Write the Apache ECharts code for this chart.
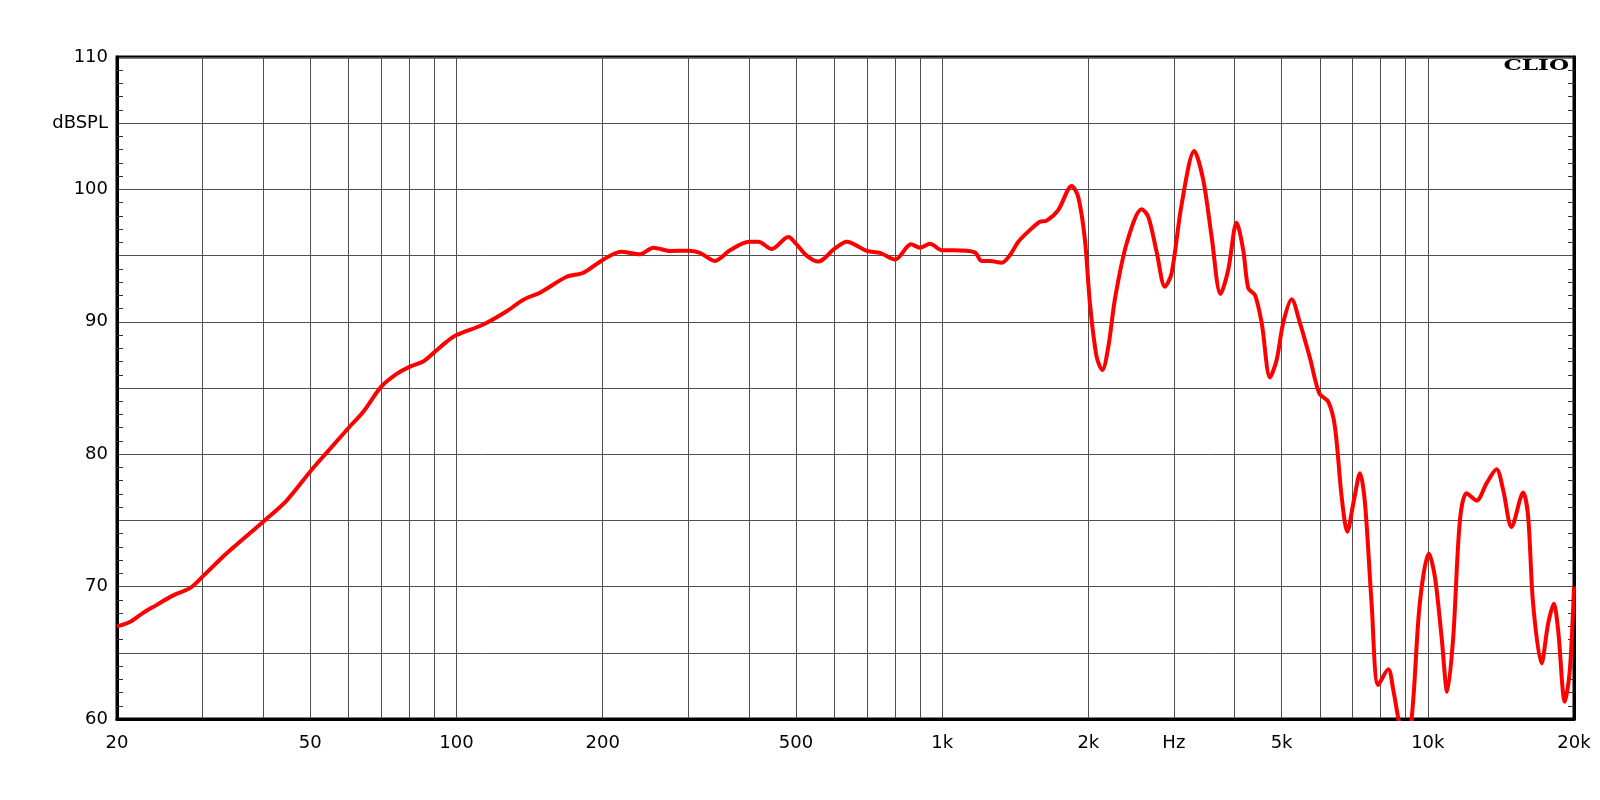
<!DOCTYPE html>
<html>
<head>
<meta charset="utf-8">
<script src="https://cdn.jsdelivr.net/npm/echarts@6/dist/echarts.min.js"></script>
<style>html,body{margin:0;padding:0;background:#fff}#c{width:1600px;height:800px}</style>
</head>
<body>
<div id="c"></div>
<script>
const freqs = [20,21.3,22.6,24.1,26,28.3,30,33.6,40,44.7,50,54,60,64.3,70,75.3,80,85.4,90,95.5,100,113.6,126.9,135.1,140.6,148.6,168.6,182.5,200,218.1,238.8,254.3,275.2,300,317.3,340.5,365.7,400,418.3,445.7,482.3,500,526,556,600,636,700,745,800,863,900,944,1000,1054,1168,1205,1254,1326,1380,1435,1516,1590,1641,1734,1848,1906,1968,2015,2080,2137,2199,2270,2399,2576,2657,2764,2876,2968,3111,3305,3449,3588,3743,3881,4040,4169,4270,4407,4550,4733,4882,5037,5244,5455,5721,5977,6237,6438,6646,6826,7046,7250,7424,7662,7907,8291,8490,8694,8950,9259,9626,10051,10341,10675,10964,11282,11645,12019,12603,13210,13850,14295,14872,15714,16090,16476,17146,17691,18174,18550,19150,19610,20000];
const splValues = [67.0,67.35,68.0,68.6,69.3,69.9,70.75,72.5,74.9,76.5,78.7,80.1,82.0,83.2,85.1,86.06,86.6,87.0,87.7,88.5,89.0,89.8,90.8,91.5,91.85,92.2,93.4,93.7,94.67,95.3,95.1,95.6,95.35,95.37,95.2,94.6,95.4,96.05,96.05,95.5,96.4,95.9,95.0,94.55,95.5,96.05,95.35,95.2,94.7,95.85,95.6,95.9,95.4,95.4,95.25,94.6,94.6,94.46,95.05,96.05,96.93,97.56,97.64,98.44,100.26,99.45,96.2,91.4,87.36,86.36,88.12,91.77,95.93,98.5,97.94,95.3,92.65,93.66,98.82,102.9,100.7,96.43,92.1,93.9,97.48,95.4,92.53,92.02,89.9,85.8,87.1,89.9,91.7,89.9,87.25,84.6,83.97,82.08,76.8,74.15,76.54,78.56,76.3,68.7,62.57,63.75,62.2,60.05,58.0,60.0,68.7,72.5,70.75,66.2,62.06,66.2,75.0,77.05,76.5,77.8,78.86,77.3,74.5,77.1,75.3,68.7,64.2,67.2,68.7,66.7,61.3,63.7,70.0];
const gridFreqs = [20,30,40,50,60,70,80,90,100,200,300,400,500,600,700,800,900,1000,2000,3000,4000,5000,6000,7000,8000,9000,10000,20000];
const freqLabelValues = [20,50,100,200,500,1000,2000,3000,5000,10000,20000];
const freqLabelTexts = ['20','50','100','200','500','1k','2k','Hz','5k','10k','20k'];
const dbLabelValues = [60,70,80,90,100,105,110];
const dbLabelTexts = ['60','70','80','90','100','dBSPL','110'];

const chart = echarts.init(document.getElementById('c'), null, {renderer: 'canvas'});
const gridColor = '#505050';
const labelFont = {fontFamily: 'DejaVu Sans', fontSize: 18, color: '#000'};
const minorTick = {show: true, splitNumber: 5, length: 6, lineStyle: {color: '#333', width: 1}};
chart.setOption({
  animation: false,
  backgroundColor: '#fff',
  grid: {left: 117, right: 26, top: 57, bottom: 81, show: true, borderWidth: 3, borderColor: '#000', outerBoundsMode: 'none'},
  xAxis: {
    type: 'log', logBase: 10, min: 20, max: 20000,
    axisLine: {show: true, lineStyle: {color: '#000', width: 3}},
    axisTick: {show: false, customValues: gridFreqs},
    axisLabel: Object.assign({customValues: freqLabelValues, margin: 15,
      formatter: v => { const i = freqLabelValues.findIndex(f => Math.abs(f - v) < 0.5); return i >= 0 ? freqLabelTexts[i] : ''; }}, labelFont),
    splitLine: {show: true, lineStyle: {color: gridColor, width: 1}},
    minorTick: {show: false}, minorSplitLine: {show: false}
  },
  yAxis: [{
    type: 'value', min: 60, max: 110, interval: 5,
    axisLine: {show: true, lineStyle: {color: '#000', width: 3}},
    axisTick: {show: false, inside: true},
    minorTick: minorTick,
    axisLabel: Object.assign({margin: 9,
      formatter: v => { const i = dbLabelValues.indexOf(v); return i >= 0 ? dbLabelTexts[i] : ''; }}, labelFont),
    splitLine: {show: true, lineStyle: {color: gridColor, width: 1}}
  }, {
    type: 'value', min: 60, max: 110, interval: 5, position: 'right',
    axisLine: {show: true, lineStyle: {color: '#000', width: 3}},
    axisTick: {show: false, inside: true},
    minorTick: minorTick,
    axisLabel: {show: false},
    splitLine: {show: false}
  }],
  graphic: [{
    type: 'text', x: 1569, y: 66, scaleX: 1.65, z: 100,
    style: {text: 'CLIO', fontFamily: 'DejaVu Serif', fontWeight: 'bold', fontSize: 14, fill: '#000', align: 'right', verticalAlign: 'middle'}
  }],
  series: [{
    type: 'line', xAxisIndex: 0, yAxisIndex: 0,
    data: freqs.map((f, i) => [f, splValues[i]]),
    showSymbol: false, smooth: 0.3, clip: true,
    lineStyle: {color: '#ff0000', width: 4},
    z: 10
  }]
});
</script>
</body>
</html>
